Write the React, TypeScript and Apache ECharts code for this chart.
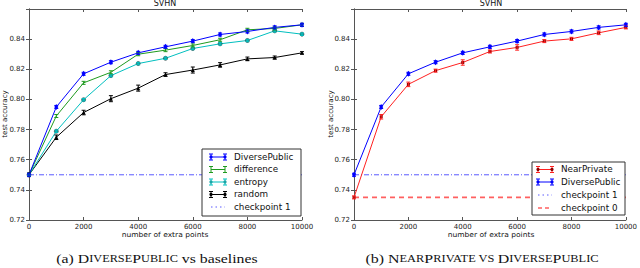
import React, { useEffect, useRef } from "react";
import * as echarts from "echarts";

const xPoints = [0, 1000, 2000, 3000, 4000, 5000, 6000, 7000, 8000, 9000, 10000];
const diversePublic = [0.75, 0.795, 0.817, 0.8247, 0.8309, 0.8349, 0.8387, 0.8431, 0.8451, 0.8478, 0.8495];
const diversePublicErr = [0.001, 0.001, 0.001, 0.001, 0.001, 0.001, 0.001, 0.001, 0.001, 0.001, 0.001];
const difference = [0.75, 0.789, 0.811, 0.818, 0.830, 0.8327, 0.8358, 0.8396, 0.8462, 0.8471, 0.8495];
const differenceErr = [0.001, 0.001, 0.001, 0.001, 0.001, 0.001, 0.001, 0.001, 0.001, 0.001, 0.001];
const entropy = [0.75, 0.7789, 0.7998, 0.8158, 0.8238, 0.8273, 0.8338, 0.8369, 0.8391, 0.8455, 0.8433];
const entropyErr = [0.0008, 0.0008, 0.0008, 0.0008, 0.0008, 0.0008, 0.0008, 0.0008, 0.0008, 0.0008, 0.0008];
const randomSel = [0.75, 0.7749, 0.7913, 0.8005, 0.8075, 0.8165, 0.8195, 0.8229, 0.8269, 0.8278, 0.8309];
const randomErr = [0.0012, 0.0015, 0.0015, 0.002, 0.002, 0.0012, 0.002, 0.0015, 0.0012, 0.001, 0.0008];
const nearPrivate = [0.735, 0.7885, 0.810, 0.8191, 0.8245, 0.8318, 0.8345, 0.8387, 0.8402, 0.8442, 0.8478];
const nearPrivateErr = [0.001, 0.0015, 0.0015, 0.001, 0.0018, 0.001, 0.0018, 0.001, 0.001, 0.0012, 0.001];
const checkpoint1 = 0.75;
const checkpoint0 = 0.735;
const yMin = 0.72;
const yMax = 0.86;
const yStep = 0.02;
const xMin = 0;
const xMax = 10000;
const xStep = 2000;

const SANS = "DejaVu Sans";
const SERIF = "Liberation Serif";

function pts(vals: number[]) {
  return xPoints.map((x, i) => [x, vals[i]]);
}
function errPts(vals: number[], errs: number[]) {
  return xPoints.map((x, i) => [x, vals[i], errs[i]]);
}

function lineSeries(name: string, vals: number[], color: string, symbol: string, symbolSize: any, grid: number, symbolColor?: string, border?: string) {
  return {
    type: "line",
    name,
    xAxisIndex: grid * 2,
    yAxisIndex: grid * 2,
    data: pts(vals),
    symbol,
    symbolSize,
    showSymbol: true,
    lineStyle: { color, width: 1 },
    itemStyle: { color: symbolColor || color, borderColor: border || symbolColor || color, borderWidth: border ? 0.6 : 0 },
    z: 3,
  };
}

function errSeries(vals: number[], errs: number[], color: string, grid: number) {
  return {
    type: "custom",
    xAxisIndex: grid * 2,
    yAxisIndex: grid * 2,
    data: errPts(vals, errs),
    encode: { x: 0, y: 1 },
    z: 4,
    renderItem: (params: any, api: any) => {
      const x = api.value(0);
      const y = api.value(1);
      const e = api.value(2);
      const t = api.coord([x, y + e]);
      const b = api.coord([x, y - e]);
      const w = 2;
      const st = { stroke: color, lineWidth: 1 };
      return {
        type: "group",
        children: [
          { type: "line", shape: { x1: t[0], y1: t[1], x2: b[0], y2: b[1] }, style: st },
          { type: "line", shape: { x1: t[0] - w, y1: t[1], x2: t[0] + w, y2: t[1] }, style: st },
          { type: "line", shape: { x1: b[0] - w, y1: b[1], x2: b[0] + w, y2: b[1] }, style: st },
        ],
      };
    },
  };
}

function hLine(name: string, val: number, color: string, type: any, width: number, grid: number) {
  return {
    type: "line",
    name,
    xAxisIndex: grid * 2,
    yAxisIndex: grid * 2,
    data: [[xMin, val], [xMax, val]],
    symbol: "none",
    lineStyle: { color, width, type },
    z: 2,
  };
}

const frame = "#555";

function axesFor(grid: number) {
  const xs = [
    {
      type: "value", gridIndex: grid, min: xMin, max: xMax, interval: xStep, position: "bottom",
      axisLine: { lineStyle: { color: frame, width: 1 } },
      axisTick: { inside: true, length: 3, lineStyle: { color: frame } },
      axisLabel: { fontFamily: SANS, fontSize: 7, color: "#222", margin: 3, formatter: (v: number) => String(v) },
      splitLine: { show: false },
    },
    {
      type: "value", gridIndex: grid, min: xMin, max: xMax, interval: xStep, position: "top",
      axisLine: { lineStyle: { color: frame, width: 1 } },
      axisTick: { inside: true, length: 3, lineStyle: { color: frame } },
      axisLabel: { show: false },
      splitLine: { show: false },
    },
  ];
  const ys = [
    {
      type: "value", gridIndex: grid, min: yMin, max: yMax, interval: yStep, position: "left",
      axisLine: { show: true, lineStyle: { color: frame, width: 1 } },
      axisTick: { show: true, inside: true, length: 3, lineStyle: { color: frame } },
      axisLabel: {
        fontFamily: SANS, fontSize: 7, color: "#222", margin: 4,
        formatter: (v: number) => (v > 0.855 ? "" : v.toFixed(2)),
      },
      splitLine: { show: false },
    },
    {
      type: "value", gridIndex: grid, min: yMin, max: yMax, interval: yStep, position: "right",
      axisLine: { show: true, lineStyle: { color: frame, width: 1 } },
      axisTick: { show: true, inside: true, length: 3, lineStyle: { color: frame } },
      axisLabel: { show: false },
      splitLine: { show: false },
    },
  ];
  return { xs, ys };
}

const C_BLUE = "#0000ff";
const C_GREEN = "#1e9a1e";
const C_CYAN = "#00bfbf";
const C_BLACK = "#000000";
const C_RED = "#ff2020";

function legendEntry(x: number, y: number, label: string, color: string, kind: string, markerColor?: string) {
  const children: any[] = [];
  const x1 = x, x2 = x + 14;
  const Z = 101;
  if (kind === "err") {
    children.push({ type: "line", z: Z, shape: { x1, y1: y, x2, y2: y }, style: { stroke: color, lineWidth: 1 } });
    [x1, x2].forEach((xx) => {
      children.push({ type: "line", z: Z, shape: { x1: xx, y1: y - 3, x2: xx, y2: y + 3 }, style: { stroke: color, lineWidth: 1 } });
      children.push({ type: "line", z: Z, shape: { x1: xx - 2, y1: y - 3, x2: xx + 2, y2: y - 3 }, style: { stroke: color, lineWidth: 1 } });
      children.push({ type: "line", z: Z, shape: { x1: xx - 2, y1: y + 3, x2: xx + 2, y2: y + 3 }, style: { stroke: color, lineWidth: 1 } });
      if (markerColor) {
        children.push({ type: "circle", z: Z + 1, shape: { cx: xx, cy: y, r: 1.6 }, style: { fill: markerColor } });
      }
    });
  } else if (kind === "dashdot") {
    children.push({ type: "line", z: Z, shape: { x1, y1: y, x2, y2: y }, style: { stroke: "#5a5aff", lineWidth: 1, lineDash: [1.5, 3] } });
  } else if (kind === "dash") {
    children.push({ type: "line", z: Z, shape: { x1, y1: y, x2, y2: y }, style: { stroke: "#ff6060", lineWidth: 1.6, lineDash: [4, 3] } });
  }
  children.push({
    type: "text", z: Z, x: x + 23, y, scaleX: 1.1,
    style: { text: label, fontFamily: SANS, fontSize: 8, fill: "#111", verticalAlign: "middle", align: "left" },
  });
  return children;
}

export default function App() {
  const ref = useRef<HTMLDivElement>(null);
  useEffect(() => {
    if (!ref.current) return;
    const chart = echarts.init(ref.current, null, { renderer: "svg" });
    const a0 = axesFor(0);
    const a1 = axesFor(1);
    const xAxis = [...a0.xs, ...a1.xs];
    const yAxis = [...a0.ys, ...a1.ys];

    const series: any[] = [
      hLine("checkpoint 1", checkpoint1, "#5a5aff", [5, 2, 1, 2], 1, 0),
      lineSeries("random", randomSel, C_BLACK, "triangle", 4, 0),
      errSeries(randomSel, randomErr, C_BLACK, 0),
      lineSeries("entropy", entropy, C_CYAN, "circle", 4, 0, "#1aa5a5", "#333"),
      errSeries(entropy, entropyErr, C_CYAN, 0),
      lineSeries("difference", difference, C_GREEN, "none", 0, 0),
      errSeries(difference, differenceErr, C_GREEN, 0),
      lineSeries("DiversePublic", diversePublic, C_BLUE, "diamond", [4, 6], 0),
      errSeries(diversePublic, diversePublicErr, C_BLUE, 0),

      hLine("checkpoint 1", checkpoint1, "#5a5aff", [5, 2, 1, 2], 1, 1),
      hLine("checkpoint 0", checkpoint0, "#ff6060", [5, 4], 1.6, 1),
      lineSeries("NearPrivate", nearPrivate, C_RED, "rect", 3, 1, "#8b0000"),
      errSeries(nearPrivate, nearPrivateErr, C_RED, 1),
      lineSeries("DiversePublic", diversePublic, C_BLUE, "diamond", [4, 6], 1),
      errSeries(diversePublic, diversePublicErr, C_BLUE, 1),
    ];

    const cap = (size: number) => ({ fontFamily: SERIF, fontSize: size, fill: "#111" });
    const graphic: any[] = [
      { type: "text", x: 165, y: 7, style: { text: "SVHN", fontFamily: SANS, fontSize: 8, fill: "#111", align: "center", verticalAlign: "bottom" } },
      { type: "text", x: 491, y: 7, style: { text: "SVHN", fontFamily: SANS, fontSize: 8, fill: "#111", align: "center", verticalAlign: "bottom" } },
      { type: "text", x: 165, y: 235, scaleX: 1.08, style: { text: "number of extra points", fontFamily: SANS, fontSize: 7, fill: "#111", align: "center", verticalAlign: "middle" } },
      { type: "text", x: 491, y: 235, scaleX: 1.08, style: { text: "number of extra points", fontFamily: SANS, fontSize: 7, fill: "#111", align: "center", verticalAlign: "middle" } },
      { type: "text", x: 5, y: 114, rotation: Math.PI / 2, style: { text: "test accuracy", fontFamily: SANS, fontSize: 7, fill: "#111", align: "center", verticalAlign: "middle" } },
      { type: "text", x: 331, y: 114, rotation: Math.PI / 2, style: { text: "test accuracy", fontFamily: SANS, fontSize: 7, fill: "#111", align: "center", verticalAlign: "middle" } },
      {
        type: "text", x: 157, y: 258, scaleX: 1.17,
        style: {
          text: "{n|(a) }{b|D}{s|IVERSE}{b|P}{s|UBLIC}{n| vs baselines}",
          align: "center", verticalAlign: "middle",
          rich: { n: cap(13.5), b: cap(13.5), s: cap(10.5) },
        },
      },
      {
        type: "text", x: 482, y: 258, scaleX: 1.18,
        style: {
          text: "{n|(b) }{b|N}{s|EAR}{b|P}{s|RIVATE VS }{b|D}{s|IVERSE}{b|P}{s|UBLIC}",
          align: "center", verticalAlign: "middle",
          rich: { n: cap(13.5), b: cap(13.5), s: cap(10.5) },
        },
      },
      // left legend
      { type: "rect", z: 100, shape: { x: 202, y: 149, width: 99, height: 67 }, style: { fill: "#fff", stroke: "#333", lineWidth: 1 } },
      ...legendEntry(211, 157, "DiversePublic", C_BLUE, "err", C_BLUE),
      ...legendEntry(211, 169.5, "difference", C_GREEN, "err"),
      ...legendEntry(211, 182, "entropy", C_CYAN, "err", "#1aa5a5"),
      ...legendEntry(211, 194.5, "random", C_BLACK, "err", C_BLACK),
      ...legendEntry(211, 207, "checkpoint 1", C_BLUE, "dashdot"),
      // right legend
      { type: "rect", z: 100, shape: { x: 532, y: 162, width: 93, height: 53 }, style: { fill: "#fff", stroke: "#333", lineWidth: 1 } },
      ...legendEntry(538, 169.5, "NearPrivate", C_RED, "err", "#8b0000"),
      ...legendEntry(538, 182, "DiversePublic", C_BLUE, "err", C_BLUE),
      ...legendEntry(538, 195, "checkpoint 1", C_BLUE, "dashdot"),
      ...legendEntry(538, 208, "checkpoint 0", C_RED, "dash"),
    ];

    chart.setOption({
      animation: false,
      backgroundColor: "#fff",
      grid: [
        { left: 29, top: 9, width: 273, height: 211 },
        { left: 354, top: 9, width: 274, height: 211 },
      ],
      xAxis,
      yAxis,
      series,
      graphic,
    });
    return () => chart.dispose();
  }, []);
  return <div ref={ref} style={{ width: 640, height: 268, position: "absolute", left: 0, top: 0 }} />;
}
